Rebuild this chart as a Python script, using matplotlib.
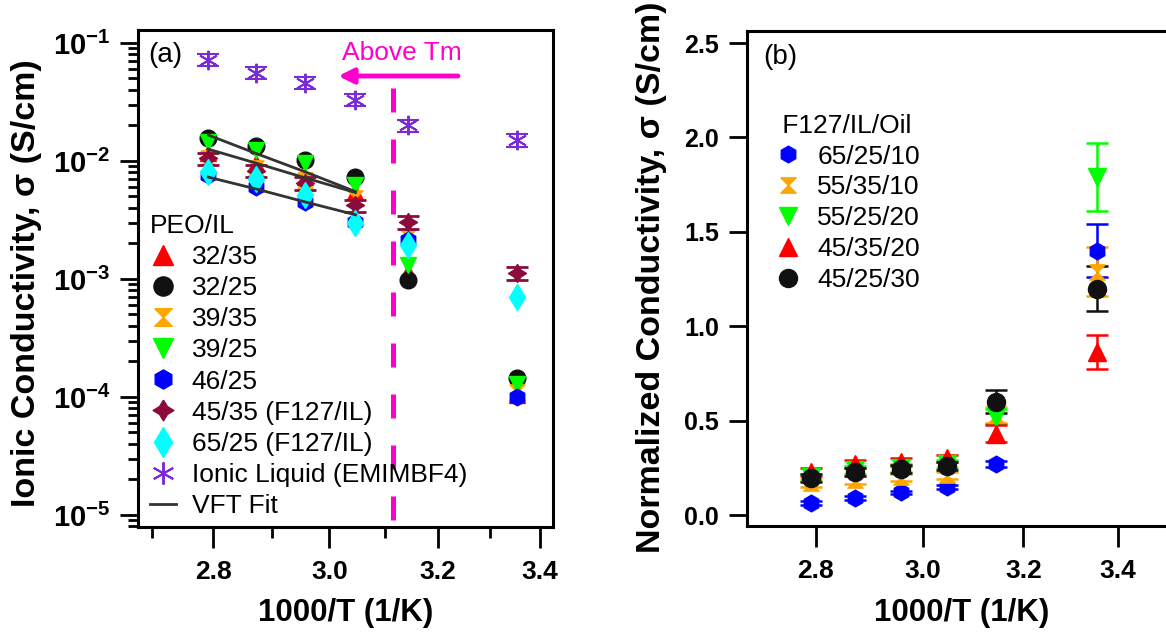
import numpy as np
import matplotlib
matplotlib.use('Agg')
import matplotlib.pyplot as plt
from matplotlib.ticker import LogLocator, NullFormatter, NullLocator

plt.rcParams['font.family'] = ['Liberation Sans', 'DejaVu Sans']
plt.rcParams['mathtext.fontset'] = 'custom'
plt.rcParams['mathtext.rm'] = 'Liberation Sans'
plt.rcParams['mathtext.bf'] = 'Liberation Sans:bold'

# temperatures 85..25 C as 1000/T
inv_T = [2.792, 2.872, 2.957, 3.047, 3.143, 3.354]
fit_T = [2.792, 2.872, 2.957, 3.047]

# panel (a): ionic conductivity (S/cm)
peo_32_35 = [1.17e-2, 9.6e-3, 7.3e-3, 5.5e-3, 1.15e-3, 1.04e-4]
peo_32_25 = [1.57e-2, 1.34e-2, 1.02e-2, 7.3e-3, 9.8e-4, 1.45e-4]
peo_39_35 = [1.06e-2, 8.7e-3, 6.9e-3, 4.9e-3, 2.27e-3, 1.1e-4]
peo_39_25 = [1.45e-2, 1.24e-2, 9.6e-3, 6.3e-3, 1.32e-3, 1.3e-4]
peo_46_25 = [7.6e-3, 6.0e-3, 4.5e-3, 3.04e-3, 2.15e-3, 1.0e-4]
f127_45_35 = [1.05e-2, 8.3e-3, 6.5e-3, 4.2e-3, 3.04e-3, 1.12e-3]
f127_65_25 = [8.1e-3, 7.0e-3, 5.1e-3, 3.0e-3, 1.94e-3, 7.0e-4]
ionic_liquid = [7.2e-2, 5.6e-2, 4.6e-2, 3.3e-2, 2.0e-2, 1.5e-2]
rel_err = [0.12, 0.12, 0.12, 0.12, 0.12, 0.12]

vft_a = [1.66e-2, 1.16e-2, 8.1e-3, 5.5e-3]
vft_b = [1.26e-2, 9.6e-3, 7.2e-3, 5.4e-3]
vft_c = [7.3e-3, 5.8e-3, 4.5e-3, 3.5e-3]

tm_x = 3.115
tm_top = 0.0416
arrow_from = (3.238, 0.0525)
arrow_to = (3.016, 0.0525)
label_pos = (3.132, 0.082)

# panel (b): normalized conductivity, F127/IL/Oil
n_65_25_10 = [0.065, 0.09, 0.12, 0.148, 0.27, 1.40]
e_65_25_10 = [0.01, 0.01, 0.01, 0.01, 0.015, 0.14]
n_55_35_10 = [0.17, 0.185, 0.20, 0.21, 0.53, 1.29]
e_55_35_10 = [0.02, 0.02, 0.02, 0.02, 0.04, 0.13]
n_55_25_20 = [0.20, 0.24, 0.25, 0.27, 0.52, 1.79]
e_55_25_20 = [0.02, 0.02, 0.02, 0.02, 0.04, 0.18]
n_45_35_20 = [0.228, 0.27, 0.28, 0.30, 0.43, 0.865]
e_45_35_20 = [0.02, 0.02, 0.02, 0.02, 0.045, 0.09]
n_45_25_30 = [0.196, 0.228, 0.244, 0.26, 0.60, 1.20]
e_45_25_30 = [0.02, 0.02, 0.02, 0.02, 0.06, 0.12]

hourglass = [(-1, 1), (1, 1), (0, 0), (1, -1), (-1, -1), (0, 0), (-1, 1)]
star4 = [(0, 1), (0.38, 0.38), (1, 0), (0.38, -0.38), (0, -1), (-0.38, -0.38), (-1, 0), (-0.38, 0.38), (0, 1)]

RED, BLACK, ORANGE, GREEN = '#FF0000', '#111111', '#FFA500', '#00FF00'
BLUE, MAROON, CYAN, PURPLE = '#0000FF', '#8C0A3C', '#00FFFF', '#7A2AD6'
MAGENTA = '#FF00CC'

fig = plt.figure(figsize=(11.66, 6.32), dpi=100)
ax1 = fig.add_axes([138/1166, 1 - 527/632, 415/1166, 497/632])
ax2 = fig.add_axes([747/1166, 1 - 526/632, 423/1166, 495/632])

# ---- panel (a)
series_a = [
    (peo_32_35, '32/35', '^', RED, 12),
    (peo_32_25, '32/25', 'o', BLACK, 12),
    (peo_39_35, '39/35', hourglass, ORANGE, 11),
    (peo_39_25, '39/25', 'v', GREEN, 12),
    (peo_46_25, '46/25', 'h', BLUE, 12),
    (f127_45_35, '45/35 (F127/IL)', star4, MAROON, 13),
    (f127_65_25, '65/25 (F127/IL)', 'd', CYAN, 13),
]
handles = []
for y, lab, mk, col, ms in series_a:
    h, = ax1.plot(inv_T, y, ls='none', marker=mk, color=col, ms=ms, mec=col, label=lab)
    handles.append(h)
    if lab.startswith('45/35'):
        ye = np.array(y) * np.array(rel_err)
        ax1.errorbar(inv_T, y, yerr=ye, fmt='none', ecolor=col, elinewidth=1.5, capsize=8, capthick=2)

ye = np.array(ionic_liquid) * np.array(rel_err)
ax1.errorbar(inv_T, ionic_liquid, yerr=ye, fmt='none', ecolor=PURPLE, elinewidth=1.2, capsize=8, capthick=1.5)
h_il, = ax1.plot(inv_T, ionic_liquid, ls='none', marker=(6, 2, 0), color=PURPLE, ms=14, mew=1.4,
                 label='Ionic Liquid (EMIMBF4)')
handles.append(h_il)

for fit in [vft_a, vft_b, vft_c]:
    h_fit, = ax1.plot(fit_T, fit, color='#333333', lw=2, label='VFT Fit')
handles.append(h_fit)

ax1.plot([tm_x, tm_x], [tm_top, 1e-6], color=MAGENTA, lw=3.6, dashes=(4.8, 5.4))
ax1.annotate('', xy=arrow_to, xytext=arrow_from,
             arrowprops=dict(arrowstyle='-|>,head_length=0.9,head_width=0.45', color=MAGENTA, lw=3.5,
                             shrinkA=0, shrinkB=0))
ax1.text(*label_pos, 'Above Tm', color=MAGENTA, fontsize=19, ha='center', va='center')
ax1.text(0.024, 0.95, '(a)', transform=ax1.transAxes, fontsize=20, ha='left', va='center')

ax1.set_xscale('log')
ax1.set_yscale('log')
ax1.set_xlim(2.678, 3.426)
ax1.set_ylim(10**-5.102, 10**-0.89)

ax1.legend(handles=handles, title='PEO/IL', loc='upper left', bbox_to_anchor=(0.028, 0.63),
           frameon=False, fontsize=19, title_fontsize=19, handlelength=1.0, handletextpad=0.6,
           labelspacing=0.27, borderpad=0, borderaxespad=0, markerscale=1.15, alignment='left')

# ---- panel (b)
series_b = [
    (n_65_25_10, e_65_25_10, '65/25/10', 'h', BLUE, 12),
    (n_55_35_10, e_55_35_10, '55/35/10', hourglass, ORANGE, 11),
    (n_55_25_20, e_55_25_20, '55/25/20', 'v', GREEN, 13),
    (n_45_35_20, e_45_35_20, '45/35/20', '^', RED, 13),
    (n_45_25_30, e_45_25_30, '45/25/30', 'o', BLACK, 13),
]
handles_b, labels_b = [], []
for y, e, lab, mk, col, ms in series_b:
    cont = ax2.errorbar(inv_T, y, yerr=e, ls='none', marker=mk, color=col, ms=ms, mec=col,
                        elinewidth=1.8, capsize=8, capthick=1.8, label=lab)
    handles_b.append(cont.lines[0])
    labels_b.append(lab)

ax2.set_xscale('log')
ax2.set_xlim(2.679, 3.516)
ax2.set_ylim(-0.058, 2.564)
ax2.legend(handles_b, labels_b, title=' F127/IL/Oil', loc='upper left', bbox_to_anchor=(0.066, 0.833),
           frameon=False, fontsize=19, title_fontsize=19, handlelength=1.0, handletextpad=0.6,
           labelspacing=0.26, borderpad=0, borderaxespad=0, markerscale=1.0, alignment='left')
ax2.text(0.038, 0.947, '(b)', transform=ax2.transAxes, fontsize=20, ha='left', va='center')

# ---- axes styling
ax1.set_xticks([2.8, 3.0, 3.2, 3.4])
ax1.set_xticks([2.7, 2.9, 3.1, 3.3], minor=True)
ax1.set_xticklabels(['2.8', '3.0', '3.2', '3.4'])
ax1.xaxis.set_minor_formatter(NullFormatter())
ax1.set_yticks([1e-5, 1e-4, 1e-3, 1e-2, 1e-1])
ax1.set_yticklabels([r'$\mathbf{10^{-5}}$', r'$\mathbf{10^{-4}}$', r'$\mathbf{10^{-3}}$',
                     r'$\mathbf{10^{-2}}$', r'$\mathbf{10^{-1}}$'])
ax1.yaxis.set_minor_locator(LogLocator(base=10, subs=np.arange(2, 10)))
ax1.yaxis.set_minor_formatter(NullFormatter())

ax2.set_xticks([2.8, 3.0, 3.2, 3.4])
ax2.set_xticklabels(['2.8', '3.0', '3.2', '3.4'])
ax2.xaxis.set_minor_locator(NullLocator())
ax2.set_yticks([0.0, 0.5, 1.0, 1.5, 2.0, 2.5])
ax2.set_yticklabels(['0.0', '0.5', '1.0', '1.5', '2.0', '2.5'])

for ax in [ax1, ax2]:
    for sp in ax.spines.values():
        sp.set_linewidth(2.2)
    ax.tick_params(axis='x', which='major', direction='out', length=15, width=2, pad=9,
                   labelsize=19)
    ax.tick_params(axis='x', which='minor', direction='out', length=8, width=2)
    ax.tick_params(axis='y', which='major', direction='out', length=13, width=2, pad=7,
                   labelsize=19)
    ax.tick_params(axis='y', which='minor', direction='out', length=7, width=2)
    for lab in ax.get_xticklabels() + ax.get_yticklabels():
        lab.set_fontweight('bold')
    ax.set_xlabel('1000/T (1/K)', fontsize=22.5, fontweight='bold')

ax1.tick_params(axis='y', labelsize=21)
ax2.tick_params(axis='y', labelsize=18)
ax1.set_ylabel('Ionic Conductivity, σ (S/cm)', fontsize=24.5, fontweight='bold')
ax2.set_ylabel('Normalized Conductivity, σ (S/cm)', fontsize=24.5, fontweight='bold')
ax1.yaxis.set_label_coords(-0.232, 0.49)
ax2.yaxis.set_label_coords(-0.189, 0.503)
ax1.xaxis.set_label_coords(0.5, -0.143)
ax2.xaxis.set_label_coords(0.508, -0.145)

fig.savefig('out.png', dpi=100)
